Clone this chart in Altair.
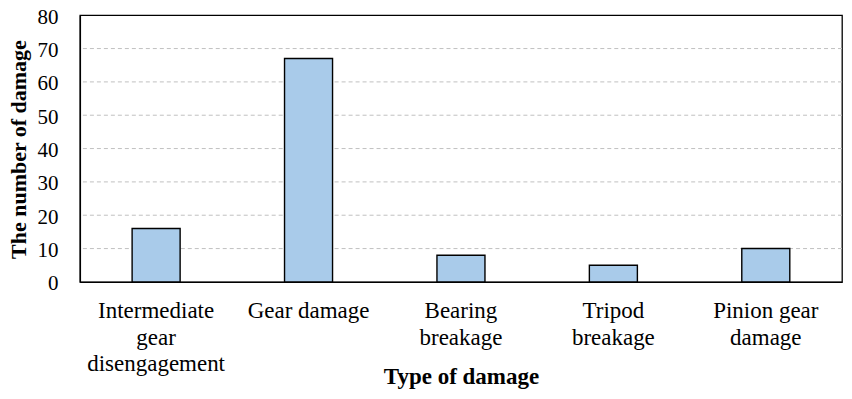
import altair as alt
import pandas as pd

categories = [
    "Intermediate|gear|disengagement",
    "Gear damage",
    "Bearing|breakage",
    "Tripod|breakage",
    "Pinion gear|damage",
]
counts = [16, 67, 8, 5, 10]
y_ticks = [0, 10, 20, 30, 40, 50, 60, 70, 80]
grid_ticks = [10, 20, 30, 40, 50, 60, 70]

df = pd.DataFrame({"type": categories, "count": counts})

FONT = "Liberation Serif"
FS = 23

y_scale = alt.Scale(domain=[0, 80])
y_axis = alt.Axis(
    title="The number of damage",
    values=y_ticks,
    labelFont=FONT,
    labelFontSize=21,
    labelColor="black",
    labelPadding=22,
    labelOffset=2,
    ticks=False,
    domainColor="black",
    domainWidth=1.3,
    grid=False,
    titleFont=FONT,
    titleFontSize=22,
    titleFontWeight="bold",
    titleColor="black",
    titleX=-61,
    titleY=134,
    titleAngle=-90,
    titleBaseline="middle",
)

grid = alt.Chart(pd.DataFrame({"count": grid_ticks})).mark_rule(
    color="#c0c0c0", strokeDash=[4, 3], strokeWidth=1
).encode(y=alt.Y("count:Q", scale=y_scale, axis=y_axis))

bars = alt.Chart(df).mark_bar(
    fill="#a9cbea", stroke="black", strokeWidth=1.4
).encode(
    x=alt.X(
        "type:N",
        sort=categories,
        scale=alt.Scale(paddingInner=0.685, paddingOuter=0.3425),
        axis=alt.Axis(
            title="Type of damage",
            labelAngle=0,
            labelExpr="split(datum.label, '|')",
            labelFont=FONT,
            labelFontSize=FS,
            labelColor="black",
            labelLineHeight=26.5,
            labelPadding=18,
            labelBaseline="top",
            ticks=False,
            domainColor="black",
            domainWidth=1.3,
            titleFont=FONT,
            titleFontSize=FS,
            titleFontWeight="bold",
            titleColor="black",
            titleY=95,
            titleBaseline="middle",
        ),
    ),
    y=alt.Y("count:Q", scale=y_scale, axis=y_axis),
)

chart = alt.layer(grid, bars).properties(
    width=763,
    height=267,
    background="white",
    autosize=alt.AutoSizeParams(type="none"),
    padding={"left": 72, "top": 7, "right": 2, "bottom": 110},
).configure_view(
    stroke="black", strokeWidth=1.3
)

chart.save("out.html", embed_options={"renderer": "svg", "actions": False})
